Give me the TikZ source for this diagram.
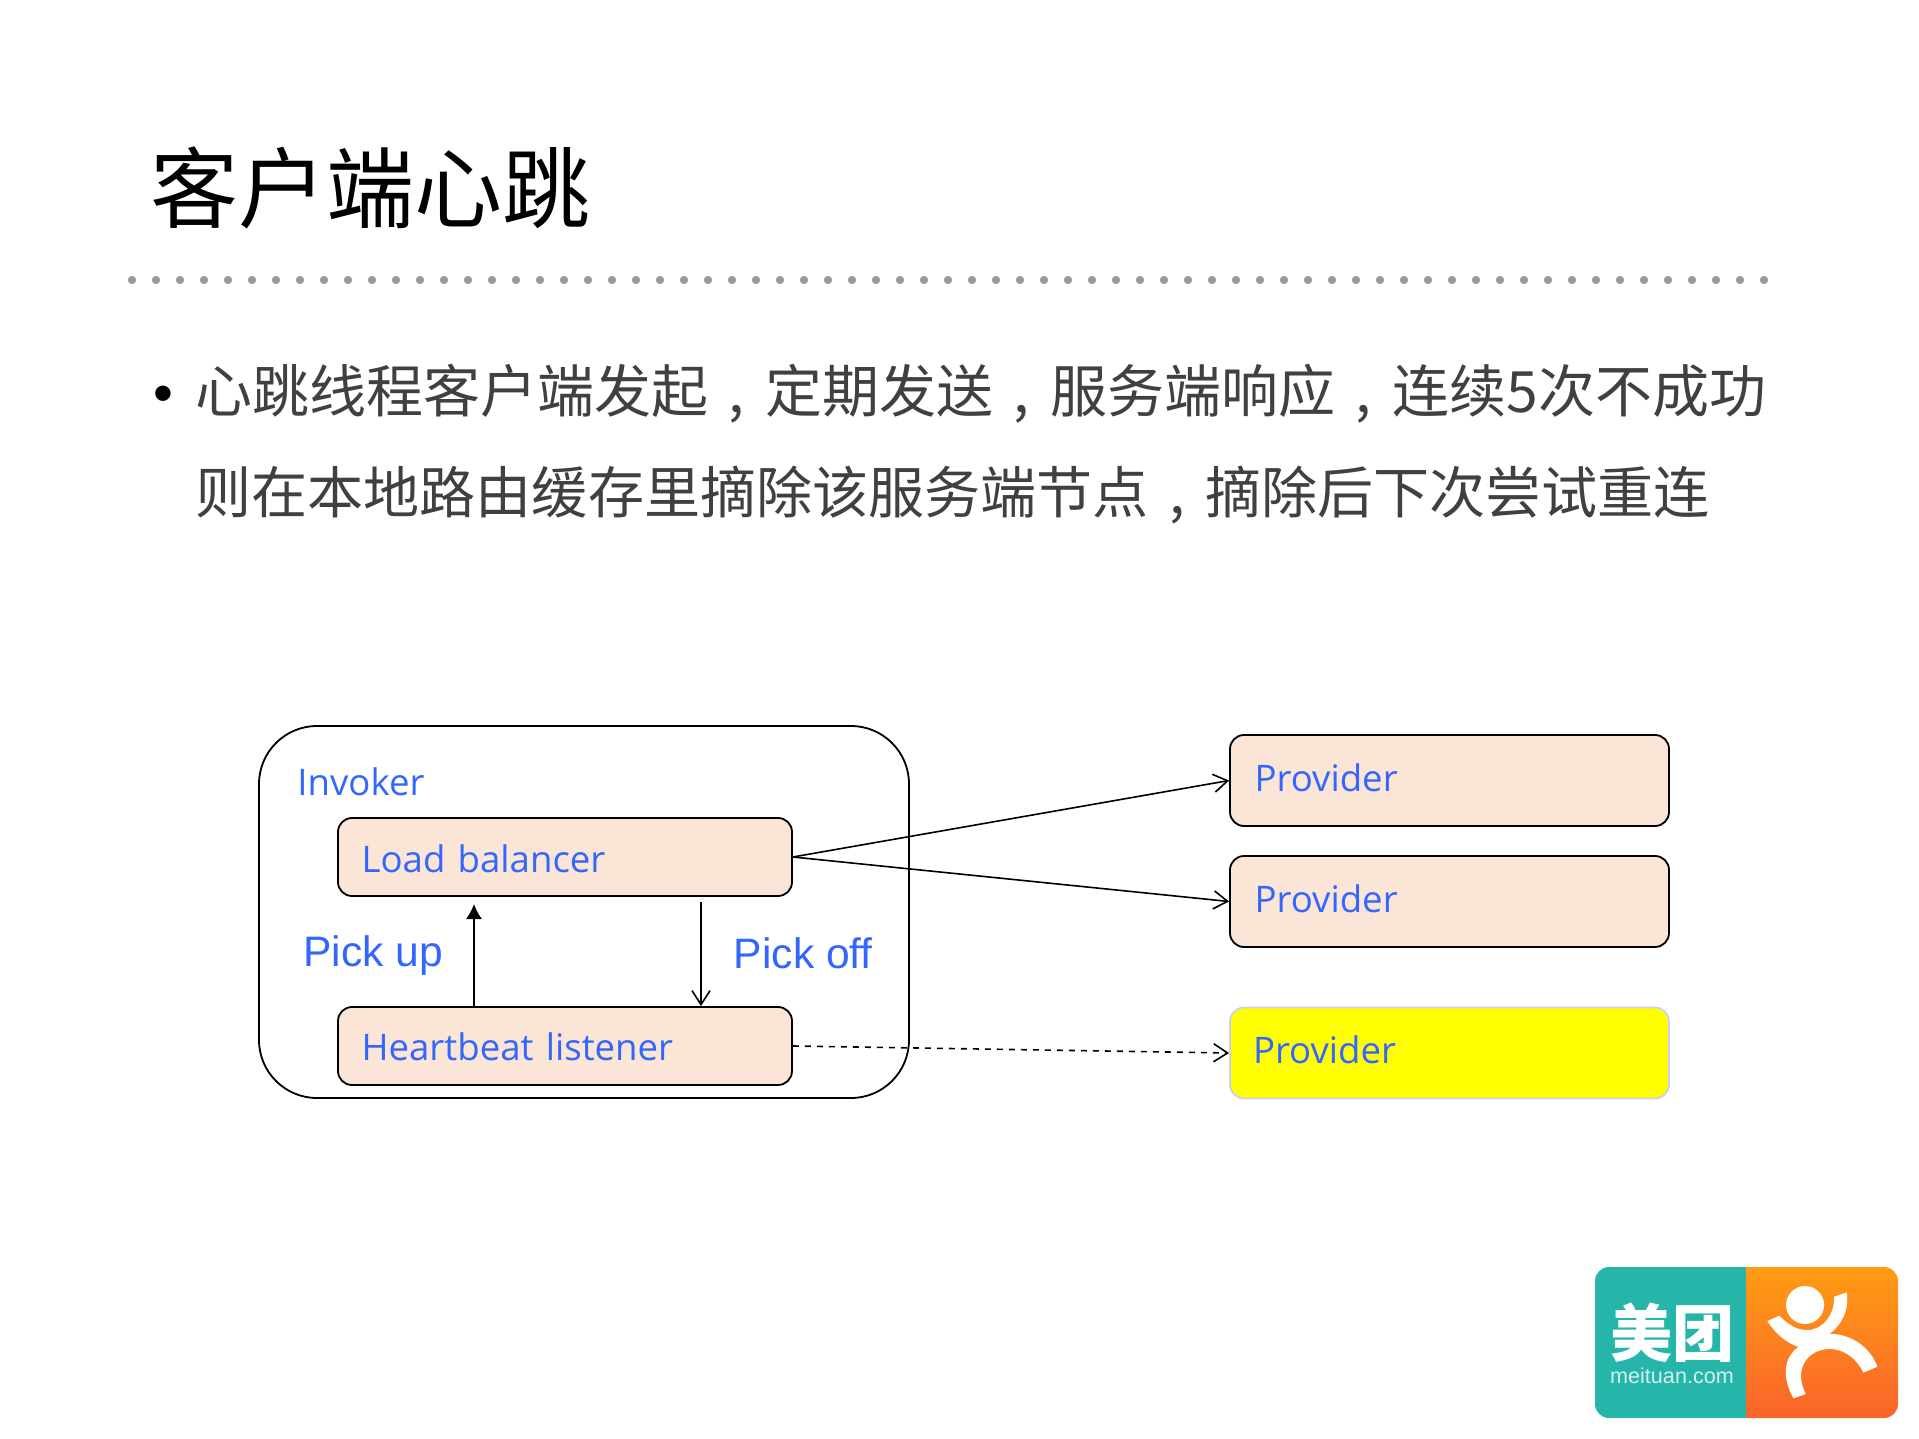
\documentclass[tikz,border=0pt]{standalone}
\usepackage{fontspec}
\setmainfont{Open Sans}
\newfontfamily\cjkfont{Noto Sans CJK SC}
\newfontfamily\arialfont{Liberation Sans}
\usetikzlibrary{arrows.meta}
\definecolor{lblue}{HTML}{3366FF}
\definecolor{peach}{HTML}{FBE5D6}
\definecolor{brightyellow}{HTML}{FFFF00}
\definecolor{dkgray}{HTML}{404040}
\definecolor{dotgray}{HTML}{9C9C9C}
\definecolor{mtteal}{HTML}{25B6A9}
\definecolor{dporange}{HTML}{FF9C14}
\definecolor{dpred}{HTML}{F9642B}
\newcommand{\zhcomma}{\makebox[1em][c]{,}}
\newcommand{\boxtext}[2]{\raisebox{#1}[0.7em][0pt]{#2}}

\begin{document}
\begin{tikzpicture}[
    x=0.5pt, y=-0.5pt,
    open/.style = {-{Straight Barb[length=7pt, width=9pt]}, line width=0.8pt},
    title/.style = {anchor=base west, inner sep=0pt, font=\cjkfont\fontsize{44}{44}\selectfont},
    body/.style = {anchor=base west, inner sep=0pt, text=dkgray},
    lbl/.style = {anchor=base west, inner sep=0pt, text=lblue, font=\fontsize{18.3}{18.3}\selectfont},
    pick/.style = {anchor=base west, inner sep=0pt, text=lblue, font=\arialfont\fontsize{21.3}{21.3}\selectfont},
    inner box/.style = {draw, line width=0.9pt, fill=peach, rounded corners=7pt, minimum width=227pt, minimum height=39pt,
        inner xsep=11.8pt, text width=203.4pt, align=left, text=lblue, font=\fontsize{18.3}{18.3}\selectfont},
    prov/.style = {draw, line width=0.9pt, fill=peach, rounded corners=7pt, minimum width=219.5pt, minimum height=45.5pt,
        inner xsep=12.3pt, text width=194.9pt, align=left, text=lblue, font=\fontsize{18.3}{18.3}\selectfont}]
    \useasboundingbox (0,0) rectangle (1919,1439);

    \node[title] (head) at (150,222) {客户端心跳};
    \draw[dotgray, line width=4.2pt, line cap=round, dash pattern=on 0pt off 12pt] (132,280) -- (1766,280);

    \node[anchor=base, inner sep=0pt, font=\arialfont\fontsize{28.3}{28.3}\selectfont] (bullet) at (163,413) {•};
    \node[body, font=\cjkfont\fontsize{28.5}{28.5}\selectfont] (line1) at (195,413) {心跳线程客户端发起\zhcomma 定期发送\zhcomma 服务端响应\zhcomma 连续5次不成功};
    \node[body, font=\cjkfont\fontsize{28.05}{28.05}\selectfont] (line2) at (195,514) {则在本地路由缓存里摘除该服务端节点\zhcomma 摘除后下次尝试重连};

    \node[draw, line width=0.9pt, rounded corners=29pt, minimum width=325pt, minimum height=186pt] (invoker) at (584,912) {};
    \node[lbl] (invoker lbl) at (297,795) {Invoker};

    \node[inner box] (balancer) at (565,857) {\boxtext{-1.2pt}{Load balancer}};
    \node[inner box] (listener) at (565,1046) {\boxtext{-1pt}{Heartbeat listener}};

    \node[pick] (pick up) at (303,966) {Pick up};
    \node[pick] (pick off) at (733.5,968) {Pick off};

    \coordinate (up end) at (474,904);
    \coordinate (off start) at (701,902);
    \draw[line width=0.8pt, -{Latex[length=7.5pt, width=8pt]}] (up end |- listener.north) -- (up end);
    \draw[open] (off start) -- (off start |- listener.north);

    \node[prov] (prov1) at (1449.5,780.5) {\boxtext{1pt}{Provider}};
    \node[prov] (prov2) at (1449.5,901.5) {\boxtext{1pt}{Provider}};
    \node[prov, draw=blue!20, fill=brightyellow] (prov3) at (1449.5,1053) {\hspace*{-0.8pt}\boxtext{1.4pt}{Provider}};

    \draw[open] (balancer.east) -- (prov1.west);
    \draw[open] (balancer.east) -- (prov2.west);
    \draw[open, dashed] (listener.east) -- (prov3.west);

    \begin{scope}
        \clip (1590,1260) rectangle (1746,1425);
        \fill[mtteal, rounded corners=7pt] (1595,1267) rectangle (1790,1418);
    \end{scope}
    \begin{scope}
        \clip (1746,1260) rectangle (1905,1425);
        \shade[top color=dporange, bottom color=dpred, rounded corners=7pt] (1700,1267) rectangle (1898,1418);
    \end{scope}
    \node[inner sep=0pt, text=white, font=\cjkfont\bfseries\fontsize{31}{31}\selectfont] (mt name) at (1672,1333) {美团};
    \node[inner sep=0pt, text=white!80!mtteal, font=\arialfont\fontsize{10.8}{10.8}\selectfont] (mt site) at (1672,1376) {meituan.com};

    \begin{scope}[shift={(1580,1250)}, x=0.1667pt, y=-0.1667pt]
        \fill[white] (675,165) circle (57);
        \fill[white] (562,213) -- (598,197) .. controls (625,225) and (650,240) .. (682,240)
            .. controls (730,240) and (765,190) .. (762,140) -- (800,127)
            .. controls (808,180) and (785,225) .. (748,252)
            .. controls (810,250) and (870,290) .. (892,350) -- (850,368)
            .. controls (830,325) and (790,295) .. (745,297)
            .. controls (680,300) and (640,360) .. (677,432) -- (640,445)
            .. controls (605,380) and (610,325) .. (655,290)
            .. controls (620,280) and (585,250) .. (562,213) -- cycle;
    \end{scope}
\end{tikzpicture}
\end{document}
